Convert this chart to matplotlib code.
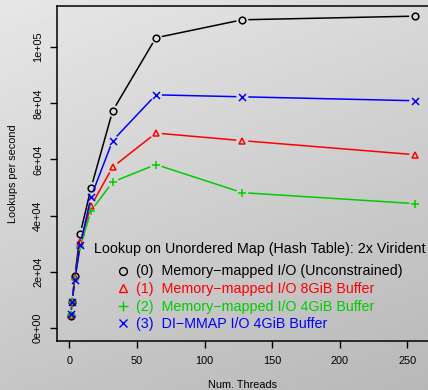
import numpy as np
import matplotlib
matplotlib.use('Agg')
import matplotlib.pyplot as plt
from matplotlib.lines import Line2D

plt.rcParams['font.family'] = ['Liberation Sans', 'DejaVu Sans']

# lookup throughput per thread count, one list per I/O configuration
threads = [1, 2, 4, 8, 16, 32, 64, 128, 256]
mmap_unconstrained = [4400, 9400, 18600, 33600, 49900, 77300, 103300, 109700, 111000]
mmap_8gib = [4800, 9700, 18300, 30700, 43500, 57300, 69400, 66700, 61700]
mmap_4gib = [4700, 9300, 17500, 29000, 41700, 52000, 58200, 48200, 44300]
dimmap_4gib = [5000, 9400, 17200, 29600, 46700, 66700, 83000, 82300, 80900]

series_labels = ['(0)  Memory\u2212mapped I/O (Unconstrained)',
                 '(1)  Memory\u2212mapped I/O 8GiB Buffer',
                 '(2)  Memory\u2212mapped I/O 4GiB Buffer',
                 '(3)  DI\u2212MMAP I/O 4GiB Buffer']
legend_title = 'Lookup on Unordered Map (Hash Table): 2x Virident'
yticks = [0, 20000, 40000, 60000, 80000, 100000]
ytick_labels = ['0e+00', '2e+04', '4e+04', '6e+04', '8e+04', '1e+05']
xticks = [0, 50, 100, 150, 200, 250]

colors = ['black', '#ff0000', '#00cd00', '#0000ff']
markers = ['o', '^', '+', 'x']
# plus sign reads small next to the others at the same size
marker_scale = [1.0, 1.0, 1.3, 1.05]

fig = plt.figure(figsize=(4.28, 3.9), dpi=100)

# diagonal grey gradient behind everything
bg = fig.add_axes([0, 0, 1, 1], zorder=-10)
gx, gy = np.meshgrid(np.linspace(0, 1, 200), np.linspace(0, 1, 200))
grad = 231 - 14 * gx - 33 * gy
bg.imshow(grad, cmap='gray', vmin=0, vmax=255, aspect='auto',
          extent=[0, 1, 0, 1], origin='upper', interpolation='bilinear')
bg.set_axis_off()

ax = fig.add_axes([57 / 428, 1 - 340.5 / 390, 372 / 428, 334.2 / 390])
ax.set_facecolor('none')
ax.set_xlim(-9.2, 266.2)
ax.set_ylim(-4400, 114500)


def plot_type_b(xs, ys, color, marker, msize, gap=6.0):
    # lines broken around each point, like R's type="b"
    pts = ax.transData.transform(np.column_stack([xs, ys]))
    inv = ax.transData.inverted()
    for p0, p1 in zip(pts[:-1], pts[1:]):
        d = p1 - p0
        length = np.hypot(*d)
        if length <= 2 * gap:
            continue
        u = d / length
        seg = inv.transform(np.array([p0 + u * gap, p1 - u * gap]))
        ax.plot(seg[:, 0], seg[:, 1], color=color, lw=1.1,
                solid_capstyle='butt')
    ax.plot(xs, ys, linestyle='none', marker=marker, color=color,
            markersize=msize, markerfacecolor='none', markeredgewidth=1.1)


all_series = [mmap_unconstrained, mmap_8gib, mmap_4gib, dimmap_4gib]
for vals, c, m, k in zip(all_series, colors, markers, marker_scale):
    plot_type_b(threads, vals, c, m, 4.8 * k)

ax.set_xticks(xticks)
ax.set_yticks(yticks)
ax.set_yticklabels(ytick_labels, rotation=90, va='center')
ax.tick_params(axis='both', direction='out', length=5, width=1.0,
               labelsize=7.8, colors='black')
ax.tick_params(axis='x', pad=6.5)
ax.tick_params(axis='y', pad=5)
for s in ax.spines.values():
    s.set_linewidth(1.1)

ax.set_xlabel('Num. Threads', fontsize=7.8, labelpad=9.5)
ax.set_ylabel('Lookups per second', fontsize=7.8, labelpad=11)

fig.text(94 / 428, 1 - 249 / 390, legend_title, fontsize=10.25,
         ha='left', va='center')

handles = [Line2D([], [], linestyle='none', marker=m, color=c,
                  markerfacecolor='none', markersize=5.6 * k,
                  markeredgewidth=1.0)
           for c, m, k in zip(colors, markers, marker_scale)]
ax.legend(handles, series_labels, frameon=False,
          loc='upper left', bbox_to_anchor=(117.3 / 428, 1 - 264.5 / 390),
          bbox_transform=fig.transFigure,
          fontsize=10.25, labelcolor=colors,
          handlelength=0.8, handletextpad=0.51, labelspacing=0.25,
          borderaxespad=0, borderpad=0)

fig.savefig('out.png', dpi=100)
